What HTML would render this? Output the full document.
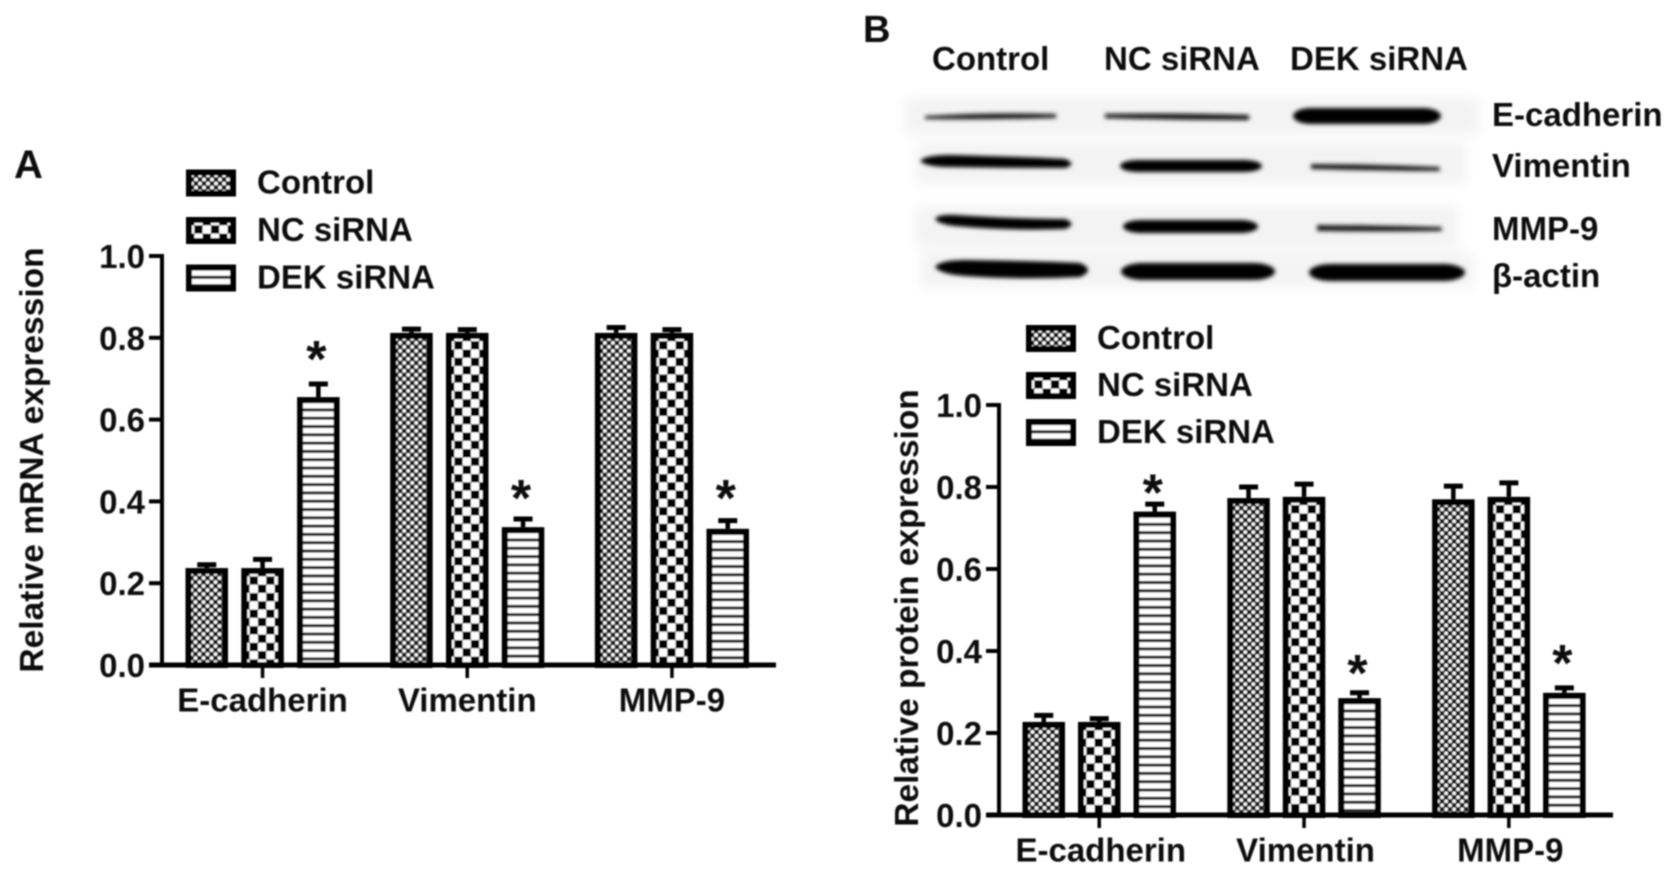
<!DOCTYPE html>
<html>
<head>
<meta charset="utf-8">
<title>DEK siRNA mRNA and protein expression</title>
<style>
html,body{margin:0;padding:0;background:#fff;}
svg{display:block;}
text{font-family:"Liberation Sans","DejaVu Sans",sans-serif;font-weight:bold;fill:#111;}
</style>
</head>
<body>
<svg id="figure" xmlns="http://www.w3.org/2000/svg" width="1677" height="878" viewBox="0 0 1677 878">
<defs>
<filter id="soft" x="-5%" y="-5%" width="110%" height="110%"><feGaussianBlur stdDeviation="0.8"/></filter>
<filter id="bandBlur" x="-10%" y="-100%" width="120%" height="300%"><feGaussianBlur stdDeviation="2.2"/></filter>
<filter id="bgBlur" x="-5%" y="-40%" width="110%" height="180%"><feGaussianBlur stdDeviation="6"/></filter>
<pattern id="pat-control" patternUnits="userSpaceOnUse" width="8" height="8">
<rect width="8" height="8" fill="#1c1c1c"/>
<rect x="0.3" y="0.3" width="3.4" height="3.4" fill="#fff"/>
<rect x="4.3" y="4.3" width="3.4" height="3.4" fill="#fff"/>
</pattern>
<pattern id="pat-nc" patternUnits="userSpaceOnUse" width="16.6" height="16.6">
<rect width="16.6" height="16.6" fill="#fff"/>
<rect x="0" y="0" width="8.3" height="8.3" fill="#000"/>
<rect x="8.3" y="8.3" width="8.3" height="8.3" fill="#000"/>
</pattern>
<pattern id="pat-dek" patternUnits="userSpaceOnUse" width="8.3" height="8.3">
<rect width="8.3" height="8.3" fill="#fff"/>
<rect x="0" y="3" width="8.3" height="3" fill="#222"/>
</pattern>
</defs>

<g id="panel-a" filter="url(#soft)"></g>
<g id="panel-b" filter="url(#soft)"></g>

<g>
<g filter="url(#bgBlur)" fill="#f3f3f3">
<rect x="905" y="98" width="574" height="36"/>
<rect x="916" y="143" width="550" height="41"/>
<rect x="916" y="206" width="542" height="41"/>
<rect x="921" y="253" width="553" height="34"/>
</g>
<g filter="url(#bandBlur)" fill="#000">
<path d="M925 116 Q990 112 1055 114 Q1058 116 1055 118 Q990 120 925 119Z" fill="#1a1a1a"/>
<path d="M1105 114 Q1180 113 1248 115 Q1251 117 1248 120 Q1180 120 1105 118Z" fill="#111"/>
<rect x="1293" y="108" width="148" height="16" rx="18" ry="8"/>
<path d="M920 161 Q925 155 950 155 Q1030 157 1065 159 Q1078 164 1065 168 Q1000 168 945 167 Q925 166 920 161Z"/>
<rect x="1120" y="160" width="142" height="12" rx="18" ry="6"/>
<path d="M1311 164 Q1375 164 1439 167 Q1441 169 1439 171 Q1375 171 1311 169Z" fill="#1a1a1a"/>
<path d="M935 219 Q938 214 955 215 Q1020 219 1065 219 Q1078 224 1065 229 Q1010 231 955 226 Q938 224 935 219Z"/>
<rect x="1123" y="220" width="135" height="13" rx="18" ry="6.5"/>
<path d="M1317 225 Q1380 225 1441 227 Q1443 229 1441 231 Q1380 232 1317 231Z" fill="#1a1a1a"/>
<path d="M935 267 Q940 260 965 260 Q1040 261 1080 263 Q1096 270 1080 277 Q1020 280 965 276 Q940 274 935 267Z"/>
<rect x="1121" y="263" width="154" height="17" rx="22" ry="8.5"/>
<rect x="1309" y="264" width="156" height="17" rx="22" ry="8.5"/>
</g>
<g filter="url(#soft)" font-size="33">
<text x="932" y="70">Control</text>
<text x="1104" y="70">NC siRNA</text>
<text x="1290" y="70">DEK siRNA</text>
<text x="1492" y="126">E-cadherin</text>
<text x="1492" y="177">Vimentin</text>
<text x="1492" y="240">MMP-9</text>
<text x="1492" y="287">β-actin</text>
</g>
</g>

<g filter="url(#soft)">
<text x="14" y="178" font-size="40">A</text>
<text x="863" y="42" font-size="38">B</text>
</g>
</svg>

<script>
// Shared labels
var categories = ["E-cadherin", "Vimentin", "MMP-9"];
var seriesNames = ["Control", "NC siRNA", "DEK siRNA"];
var tickLabels = ["0.0", "0.2", "0.4", "0.6", "0.8", "1.0"];
var tickValues = [0, 0.2, 0.4, 0.6, 0.8, 1.0];

// Panel A: mRNA expression
var mrnaControl = [0.237, 0.812, 0.812];
var mrnaNc = [0.237, 0.812, 0.812];
var mrnaDek = [0.655, 0.337, 0.333];
var mrnaControlErr = [0.250, 0.826, 0.830];
var mrnaNcErr = [0.263, 0.825, 0.825];
var mrnaDekErr = [0.692, 0.362, 0.358];
var mrnaStars = [0.775, 0.435, 0.435];

// Panel B: protein expression
var proteinControl = [0.227, 0.773, 0.770];
var proteinNc = [0.227, 0.776, 0.776];
var proteinDek = [0.740, 0.285, 0.298];
var proteinControlErr = [0.248, 0.805, 0.807];
var proteinNcErr = [0.240, 0.812, 0.815];
var proteinDekErr = [0.763, 0.303, 0.315];
var proteinStars = [0.813, 0.373, 0.398];

var patterns = ["url(#pat-control)", "url(#pat-nc)", "url(#pat-dek)"];
var NS = "http://www.w3.org/2000/svg";

function make(parent, tag, attrs, txt) {
  var el = document.createElementNS(NS, tag);
  for (var k in attrs) el.setAttribute(k, attrs[k]);
  if (txt !== undefined) el.textContent = txt;
  parent.appendChild(el);
  return el;
}

function drawChart(root, cfg, values, errs, stars, title, titleName) {
  function yScale(v) { return cfg.yBase - v * cfg.yHeight; }
  function xBar(g, s) { return cfg.xStart + g * cfg.groupStep + s * cfg.barStep; }
  function xCenter(g) { return xBar(g, 1) + cfg.barWidth / 2; }

  // bars
  values.forEach(function (series, s) {
    series.forEach(function (v, g) {
      var x = xBar(g, s), top = yScale(v), errTop = yScale(errs[s][g]);
      var cx = x + cfg.barWidth / 2;
      var stem = make(root, "line", {x1: cx, x2: cx, y1: top, y2: errTop + 2, stroke: "#000", "stroke-width": 4.5});
      
      
      var cap = make(root, "line", {x1: cx - 9.5, x2: cx + 9.5, y1: errTop + 2, y2: errTop + 2, stroke: "#000", "stroke-width": 5});
      
      
      var holder = make(root, "g", {transform: "translate(" + x + "," + top + ")"});
      
      
      var rect = make(holder, "rect", {x: 3, y: 3, width: cfg.barWidth - 6, height: Math.max(0, cfg.yBase - top - 3), fill: patterns[s], stroke: "#000", "stroke-width": 6});
      
      
    });
  });

  // significance stars
  stars.forEach(function (v, g) {
    var star = make(root, "text", {x: xBar(g, 2) + cfg.barWidth / 2 - 2, y: yScale(v) + 29, "text-anchor": "middle", "font-size": 52}, "*");
    
    
  });

  // y axis
  var yAxis = make(root, "line", {x1: cfg.xAxisLine, x2: cfg.xAxisLine, y1: yScale(1) - 2, y2: cfg.yBase, stroke: "#000", "stroke-width": 4});
  
  
  tickValues.forEach(function (t, i) {
    var y = yScale(t);
    var tick = make(root, "line", {x1: cfg.xAxisLine - 13, x2: cfg.xAxisLine, y1: y, y2: y, stroke: "#000", "stroke-width": 4});
    
    
    var label = make(root, "text", {x: cfg.xAxisLine - 17, y: y + 12, "text-anchor": "end", "font-size": 33}, tickLabels[i]);
    
    
  });

  // x axis
  var xAxis = make(root, "line", {x1: cfg.xAxisLine - 13, x2: cfg.xAxisEnd, y1: cfg.yBase, y2: cfg.yBase, stroke: "#000", "stroke-width": 5});
  
  
  categories.forEach(function (c, g) {
    var tick = make(root, "line", {x1: xCenter(g), x2: xCenter(g), y1: cfg.yBase, y2: cfg.yBase + 13, stroke: "#000", "stroke-width": 3.5});
    
    
    var label = make(root, "text", {x: xCenter(g) + cfg.labelDx, y: cfg.yBase + 46.5, "text-anchor": "middle", "font-size": 33}, c);
    
    
  });

  // y title
  var yt = make(root, "text", {transform: "translate(" + cfg.titleX + "," + cfg.titleY + ") rotate(-90)", "text-anchor": "middle", "font-size": 33.5}, title);
  
  

  // legend
  seriesNames.forEach(function (name, s) {
    var top = cfg.legendY + s * cfg.legendStep;
    var g = make(root, "g", {transform: "translate(" + cfg.legendX + "," + top + ")"});
    
    
    var sw = make(g, "rect", {x: 3, y: 3, width: 44, height: 21, fill: patterns[s], stroke: "#000", "stroke-width": 6});
    
    
    var tx = make(g, "text", {x: 71, y: 24, "font-size": 33}, name);
    
    
  });
}

drawChart(document.getElementById("panel-a"),
  {yBase: 665, yHeight: 409, xStart: 185.5, groupStep: 204.7, barStep: 55.8, barWidth: 42.5, labelDx: 0,
   xAxisLine: 162, xAxisEnd: 776, titleX: 43, titleY: 460, legendX: 186, legendY: 169.5, legendStep: 47.5},
  [mrnaControl, mrnaNc, mrnaDek],
  [mrnaControlErr, mrnaNcErr, mrnaDekErr],
  mrnaStars, "Relative mRNA expression", "y-axis-title");

drawChart(document.getElementById("panel-b"),
  {yBase: 815, yHeight: 410, xStart: 1022.5, groupStep: 204.8, barStep: 55.5, barWidth: 42.5, labelDx: 1.5,
   xAxisLine: 999, xAxisEnd: 1613, titleX: 918, titleY: 608, legendX: 1026, legendY: 325, legendStep: 47},
  [proteinControl, proteinNc, proteinDek],
  [proteinControlErr, proteinNcErr, proteinDekErr],
  proteinStars, "Relative protein expression", "y-axis-title");
</script>
</body>
</html>
